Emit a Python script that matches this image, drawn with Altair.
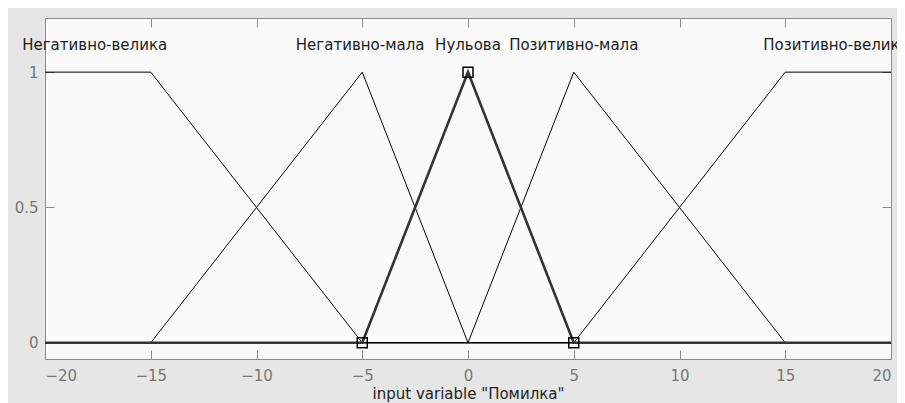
import altair as alt
import pandas as pd

# membership functions (input variable "Помилка")
mf_names = ["Негативно-велика", "Негативно-мала", "Нульова", "Позитивно-мала", "Позитивно-велика"]
nb_x = [-20, -15, -5, 20]
nb_y = [1, 1, 0, 0]
ns_x = [-20, -15, -5, 0, 20]
ns_y = [0, 0, 1, 0, 0]
z_x = [-20, -5, 0, 5, 20]
z_y = [0, 0, 1, 0, 0]
ps_x = [-20, 0, 5, 15, 20]
ps_y = [0, 0, 1, 0, 0]
pb_x = [-20, 5, 15, 20]
pb_y = [0, 0, 1, 1]
selected = "Нульова"

marker_x = [-5, 0, 5]
marker_y = [0, 1, 0]

label_x = [-17.65, -5.1, 0, 5, 17.4]
label_y = [1.1, 1.1, 1.1, 1.1, 1.1]

x_ticks = [-20, -15, -10, -5, 0, 5, 10, 15, 20]
y_ticks = [0, 0.5, 1]
x_domain = [-20, 20]
y_domain = [-0.06, 1.2]
x_title = 'input variable "Помилка"'

rows = []
for name, xs, ys in zip(mf_names, [nb_x, ns_x, z_x, ps_x, pb_x], [nb_y, ns_y, z_y, ps_y, pb_y]):
    for i, (xv, yv) in enumerate(zip(xs, ys)):
        rows.append({"mf": name, "i": i, "x": xv, "y": yv})
df = pd.DataFrame(rows)
thin_df = df[df.mf != selected]
thick_df = df[df.mf == selected]
marker_df = pd.DataFrame({"x": marker_x, "y": marker_y})
label_df = pd.DataFrame({"x": label_x, "y": label_y, "mf": mf_names})

FONT = "DejaVu Sans"
xs = alt.Scale(domain=x_domain, nice=False)
ys = alt.Scale(domain=y_domain, nice=False, zero=False)

common_axis = dict(grid=False, domain=False, tickSize=9, offset=-9, tickColor="#8c8c8c",
                   tickWidth=1, labelFont=FONT, labelFontSize=15, labelColor="#777777")

x_bottom = alt.Axis(orient="bottom", values=x_ticks, labelPadding=9, title=x_title,
                    titleFont=FONT, titleFontSize=15, titleFontWeight="normal",
                    titleColor="#222222", titlePadding=3, **common_axis)
y_left = alt.Axis(orient="left", values=y_ticks, format="~g", labelPadding=7, title=None,
                  **common_axis)
x_top = alt.Axis(orient="top", values=x_ticks, labels=False, title=None, **common_axis)
y_right = alt.Axis(orient="right", values=y_ticks, labels=False, title=None, **common_axis)

thin = alt.Chart(thin_df).mark_line(color="black", strokeWidth=1).encode(
    x=alt.X("x:Q", scale=xs, axis=x_bottom),
    y=alt.Y("y:Q", scale=ys, axis=y_left),
    detail="mf:N",
    order="i:Q",
)

thick = alt.Chart(thick_df).mark_line(color="#333333", strokeWidth=2.6).encode(
    x=alt.X("x:Q", scale=xs, axis=None),
    y=alt.Y("y:Q", scale=ys, axis=None),
    order="i:Q",
)

markers = alt.Chart(marker_df).mark_point(shape="square", filled=False, size=100,
                                          color="black", strokeWidth=1.5, opacity=1).encode(
    x=alt.X("x:Q", scale=xs, axis=x_top),
    y=alt.Y("y:Q", scale=ys, axis=y_right),
)

labels = alt.Chart(label_df).mark_text(font=FONT, fontSize=15, color="#1a1a1a",
                                       align="center", baseline="middle").encode(
    x=alt.X("x:Q", scale=xs, axis=None),
    y=alt.Y("y:Q", scale=ys, axis=None),
    text="mf:N",
)

chart = alt.layer(thin, thick, markers, labels).resolve_axis(
    x="independent", y="independent"
).properties(
    width=846, height=341,
    padding={"left": 37, "top": 10, "right": 6, "bottom": 44},
    autosize=alt.AutoSizeParams(type="none"),
    background="#e6e6e6",
).configure_view(stroke="#8c8c8c", strokeWidth=1, fill="#fafafa")

chart.save("out.html", embed_options={"renderer": "svg", "actions": False})
